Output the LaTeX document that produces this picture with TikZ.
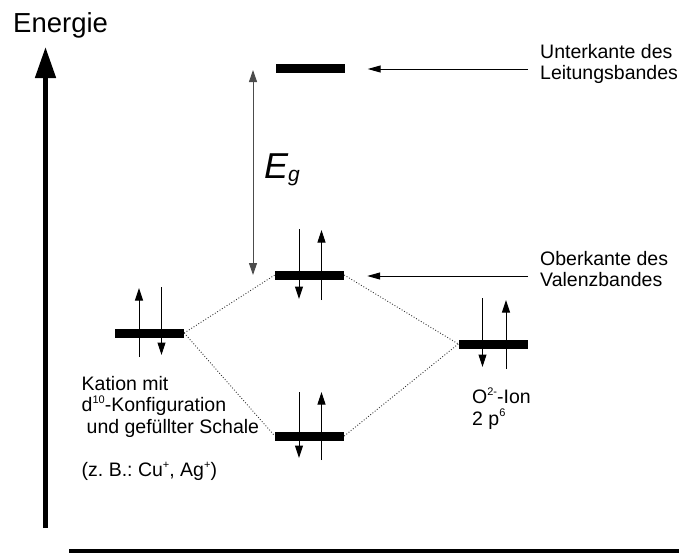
\documentclass[tikz,border=0pt]{standalone}
\usepackage{fontspec}
\setmainfont{Liberation Sans}
\usetikzlibrary{arrows.meta,calc}
% small raised characters for charges and electron counts
\newcommand{\hochz}[1]{\raisebox{0.42em}{\fontsize{11}{11}\selectfont #1}}
\begin{document}
\frenchspacing
\begin{tikzpicture}[x=1pt,y=-1pt,
  level/.style={rectangle, fill=black, draw=none, inner sep=0pt,
                minimum width=69pt, minimum height=9pt},
  spin/.style={line width=1pt, -{Triangle[length=12.5pt,width=8pt]}},
  tie/.style={line width=0.9pt, black!80, dash pattern=on 0.9pt off 1.9pt},
  pointer/.style={line width=1pt, -{Triangle[length=13pt,width=7pt]}},
  gapline/.style={line width=1pt, black!70,
                  {Triangle[length=12pt,width=8pt]}-{Triangle[length=12pt,width=8pt]}},
  lbl/.style={font=\fontsize{19.5}{21.5}\selectfont, align=left, inner sep=0pt},
  axis/.style={line width=4.7pt, -{Triangle[length=31pt,width=20pt]}}]
\useasboundingbox (0,0) rectangle (679,552);

% energy axis and base line
\coordinate (axbot) at (45.5,528);
\coordinate (axtop) at (45.5,47);
\draw[axis] (axbot) -- (axtop);
\node[anchor=base west, inner sep=0pt, font=\fontsize{27.5}{32}\selectfont] (energie) at (13,32) {Energie};
\fill (69,549) rectangle (679,553);

% energy levels
\node[level] (lb)   at (310,68.5) {};
\node[level] (vb)   at (309.5,275) {};
\node[level] (cat)  at (149.5,333) {};
\node[level] (bond) at (309.5,436) {};
\node[level] (ox)   at (493,344) {};

% dotted correlation lines
\draw[tie] (cat.east) -- (vb.west);
\draw[tie] (cat.east) -- (bond.west);
\draw[tie] (vb.east) -- (ox.west);
\draw[tie] (bond.east) -- (ox.west);

% electron spins
\draw[spin] ($(cat)+(-10.5,24)$) -- ($(cat)+(-10.5,-45)$);
\draw[spin] ($(cat)+(12,-46)$) -- ($(cat)+(12,22)$);
\draw[spin] ($(vb)+(-10.5,-46)$) -- ($(vb)+(-10.5,24)$);
\draw[spin] ($(vb)+(12,25)$) -- ($(vb)+(12,-45)$);
\draw[spin] ($(bond)+(-10.5,-44)$) -- ($(bond)+(-10.5,22)$);
\draw[spin] ($(bond)+(12,24)$) -- ($(bond)+(12,-44)$);
\draw[spin] ($(ox)+(-10.5,-46)$) -- ($(ox)+(-10.5,23)$);
\draw[spin] ($(ox)+(13,25)$) -- ($(ox)+(13,-44)$);

% band gap
\coordinate (egtop) at (253,70);
\coordinate (egbot) at (253,275);
\draw[gapline] (egtop) -- (egbot);
\node[anchor=base west, inner sep=0pt, font=\fontsize{36}{40}\selectfont\itshape] (eg) at (264,178)
  {E\raisebox{-3pt}{\fontsize{21}{24}\selectfont g}};

% band edge labels
\node[lbl, anchor=north west] (ulbl) at (540,44) {Unterkante des\\Leitungsbandes};
\node[lbl, anchor=north west] (olbl) at (540,251) {Oberkante des\\Valenzbandes};
\coordinate (utail) at (528,69);
\coordinate (otail) at (528,276);
\draw[pointer, shorten >=23pt] (utail) -- (utail -| lb.east);
\draw[pointer, shorten >=23pt] (otail) -- (otail -| vb.east);

% ion labels
\node[lbl, anchor=north west] (catlbl) at (81.5,376)
  {Kation mit\\d\hochz{10}-Konfiguration\\\hspace*{5pt}und gefüllter Schale\\[21.5pt](z. B.: Cu\hochz{+}, Ag\hochz{+})};
\node[lbl, anchor=north west] (oxlbl) at (472,387.5)
  {O\hochz{2-}-Ion\\2 p\hochz{6}};
\end{tikzpicture}
\end{document}
